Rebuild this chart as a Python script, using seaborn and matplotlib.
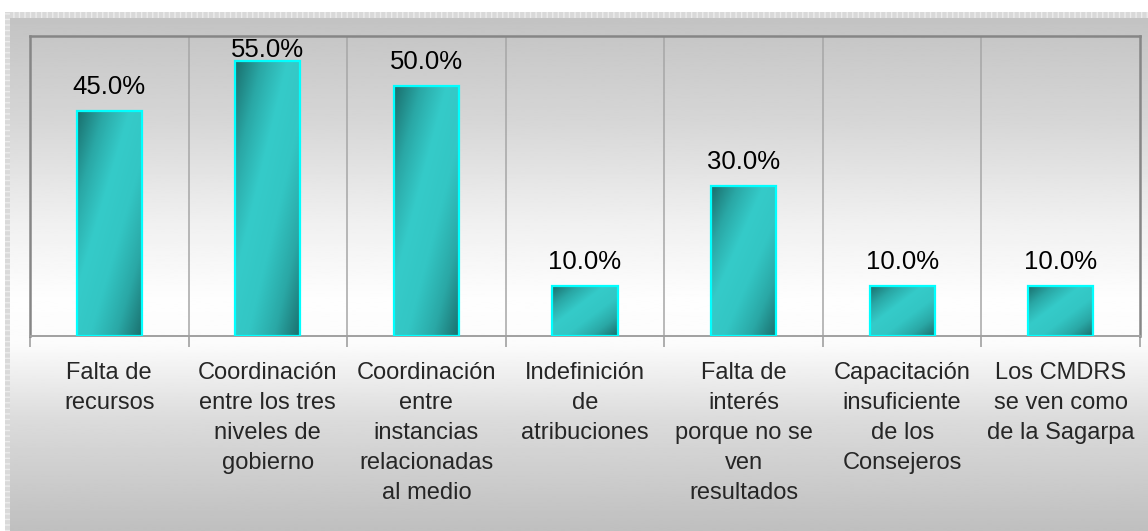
import numpy as np
import pandas as pd
import matplotlib
matplotlib.use("Agg")
import matplotlib.pyplot as plt
from matplotlib.colors import LinearSegmentedColormap
from matplotlib.patches import Rectangle
import seaborn as sns

# Survey results: obstacles reported for the municipal councils
categories = [
    "Falta de\nrecursos",
    "Coordinación\nentre los tres\nniveles de\ngobierno",
    "Coordinación\nentre\ninstancias\nrelacionadas\nal medio",
    "Indefinición\nde\natribuciones",
    "Falta de\ninterés\nporque no se\nven\nresultados",
    "Capacitación\ninsuficiente\nde los\nConsejeros",
    "Los CMDRS\nse ven como\nde la Sagarpa",
]
values = [45.0, 55.0, 50.0, 10.0, 30.0, 10.0, 10.0]
value_labels = [f"{v:.1f}%" for v in values]

df = pd.DataFrame({"categoria": categories, "porcentaje": values})

sns.set_theme(style="white")
plt.rcParams["font.family"] = ["Liberation Sans", "DejaVu Sans"]

W, H, DPI = 1148, 531, 100
fig = plt.figure(figsize=(W / DPI, H / DPI), dpi=DPI)
fig.patch.set_facecolor("white")

# ---- background panel: vertical grey-white-grey gradient with stippled rim
bg = fig.add_axes([0, 0, 1, 1], zorder=-5)
bg.set_xlim(0, W)
bg.set_ylim(H, 0)
bg.axis("off")
ys = np.array([18, 120, 220, 300, 345, 420, 531], dtype=float)
gs = np.array([0.765, 0.84, 0.94, 0.995, 0.985, 0.86, 0.75])
yy = np.linspace(18, H, 400)
grad = np.interp(yy, ys, gs)[:, None]
bg.imshow(grad, cmap="gray", vmin=0, vmax=1, aspect="auto",
          extent=(10, W, H, 18), interpolation="bilinear", zorder=1)
bg.add_patch(Rectangle((5, 12), W - 5, 6, facecolor="#d9d9d9",
                       edgecolor="#ececec", hatch="|||", linewidth=0, zorder=2))
bg.add_patch(Rectangle((5, 12), 5, H - 12, facecolor="#d9d9d9",
                       edgecolor="#ececec", hatch="---", linewidth=0, zorder=2))

# ---- main chart
ax = fig.add_axes([30 / W, (H - 336) / H, 1110 / W, 300 / H], zorder=1)
ax.patch.set_alpha(0)

sns.barplot(data=df, x="categoria", y="porcentaje", width=0.41,
            color="#33cccc", edgecolor="#00ffff", linewidth=1.6,
            ax=ax, zorder=3)

ax.set_xlim(-0.5, len(categories) - 0.5)
ax.set_ylim(0, 60)

# diagonal teal gradient inside each bar
teal = LinearSegmentedColormap.from_list(
    "teal", ["#1a6f6d", "#2aa8a6", "#35cbc9", "#33c6c4", "#2aa8a6", "#1a6f6d"])
n = 64
u = np.linspace(0, 1, n)
uu, vv = np.meshgrid(u, u)
tgrid = (uu + vv) / 2.0
for patch in ax.patches:
    x0, y0 = patch.get_x(), patch.get_y()
    w, h = patch.get_width(), patch.get_height()
    im = ax.imshow(tgrid, cmap=teal, vmin=0, vmax=1, aspect="auto",
                   extent=(x0, x0 + w, y0, y0 + h), origin="upper",
                   interpolation="bilinear", zorder=3.5)
    im.set_clip_path(patch)
    patch.set_facecolor("none")
    patch.set_zorder(4)

# value labels above bars (kept inside the plot frame)
label_offset = 3.4
label_ceiling = 55.8
for i, (v, txt) in enumerate(zip(values, value_labels)):
    ax.text(i, min(v + label_offset, label_ceiling), txt, ha="center",
            va="baseline", fontsize=18.5, color="black", zorder=5)

# category separators and frame
bounds = np.arange(-0.5, len(categories), 1.0)
ax.set_xticks(bounds, minor=True)
ax.set_xticks(range(len(categories)))
ax.set_xticklabels(categories, fontsize=17, linespacing=1.47)
ax.tick_params(axis="x", which="major", length=0, pad=19)
ax.tick_params(axis="x", which="minor", length=8, width=1.2,
               color="#a0a0a0", direction="out", bottom=True)
ax.set_yticks([])
for b in bounds[1:-1]:
    ax.axvline(b, color="#a6a6a6", linewidth=1.1, zorder=1)
ax.set_xlabel("")
ax.set_ylabel("")
for side in ["left", "right", "top"]:
    ax.spines[side].set_visible(True)
    ax.spines[side].set_color("#868686")
    ax.spines[side].set_linewidth(1.8)
ax.spines["bottom"].set_color("#a0a0a0")
ax.spines["bottom"].set_linewidth(1.4)

fig.savefig("out.png", dpi=DPI)
